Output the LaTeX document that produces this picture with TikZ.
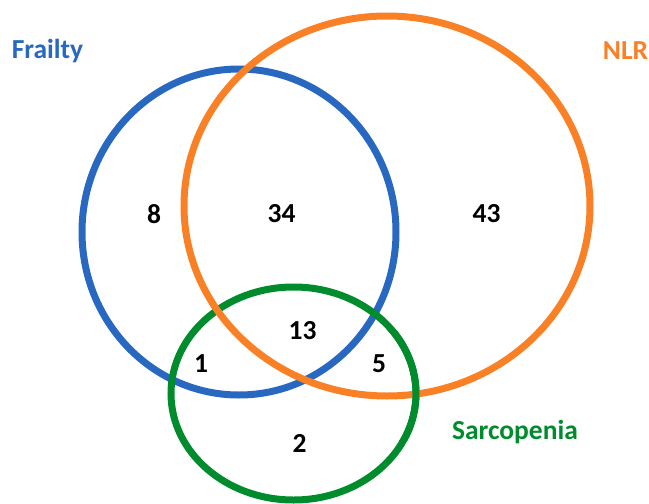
\documentclass[tikz,border=0pt]{standalone}
\usepackage{fontspec}
\setmainfont{Carlito}
\usetikzlibrary{shapes.geometric, positioning}
\definecolor{frailtyblue}{RGB}{40,104,192}
\definecolor{nlrorange}{RGB}{250,128,38}
\definecolor{sarcgreen}{RGB}{0,140,44}
\tikzset{
    x=1pt, y=-1pt, % one unit is one pixel of the figure
    set/.style={ellipse, line width=7pt, inner sep=0pt}, % the outline of each set
    count/.style={font=\fontsize{27.5}{33}\selectfont\bfseries}, % numbers in the regions
    setlabel/.style={font=\fontsize{27.5}{33}\selectfont\bfseries}, % names of the sets
}
\begin{document}
\begin{tikzpicture}
    \useasboundingbox (0,0) rectangle (649,504);
    \node[set, draw=frailtyblue, minimum width=314pt, minimum height=326pt] (frailty) at (239,232) {};
    \node[set, draw=sarcgreen, minimum width=245pt, minimum height=213pt] (sarc) at (293.5,393.5) {};
    \node[set, draw=nlrorange, minimum width=406pt, minimum height=380pt] (nlr) at (387,206) {};
    % green runs over the orange line on the right
    \begin{scope}
        \clip (360,330) rectangle (440,440);
        \draw[sarcgreen, line width=7pt] (sarc.center) ellipse (122.5 and 106.5);
    \end{scope}
    \node[setlabel, text=frailtyblue] (lfrailty) at (47.5,51) {Frailty};
    \node[setlabel, text=nlrorange] (lnlr) at (625.5,51) {NLR};
    \node[setlabel, text=sarcgreen] (lsarc) at (515,432) {Sarcopenia};
    \node[count] (n8) at (154,214) {8};
    \node[count] (n34) at (281.5,214) {34};
    \node[count] (n43) at (486.5,214) {43};
    \node[count] (n13) at (302.5,330.5) {13};
    \node[count] (n1) at (201,364) {1};
    \node[count] (n5) at (379,364) {5};
    \node[count] (n2) at (299.5,443.5) {2};
\end{tikzpicture}
\end{document}
